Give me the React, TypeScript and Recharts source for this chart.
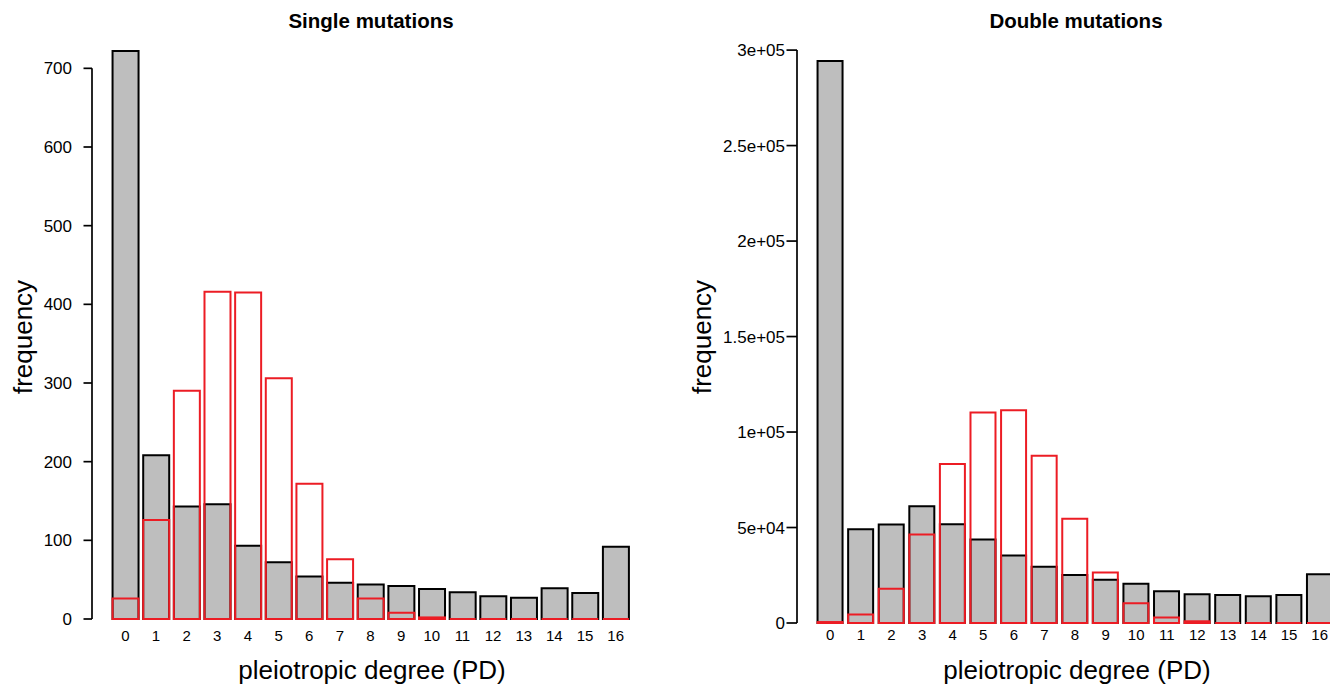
import { Bar, BarChart, XAxis, YAxis } from "recharts"

const degrees = ["0", "1", "2", "3", "4", "5", "6", "7", "8", "9", "10", "11", "12", "13", "14", "15", "16"]

// single mutations: grey = all, red = outline bars
const singleAll = [722, 208, 143, 146, 93, 72, 54, 46, 44, 42, 38, 34, 29, 27, 39, 33, 92]
const singleRed = [26, 126, 290, 416, 415, 306, 172, 76, 26, 8, 2, 0, 0, 0, 0, 0, 0]
const singleTicks = [0, 100, 200, 300, 400, 500, 600, 700]
const singleTickLabels = ["0", "100", "200", "300", "400", "500", "600", "700"]

// double mutations
const doubleAll = [294300, 49100, 51600, 61200, 51700, 43700, 35300, 29400, 25200, 22600, 20600, 16600, 15000, 14700, 14000, 14700, 25500]
const doubleRed = [500, 4400, 18000, 46300, 83200, 110200, 111400, 87600, 54600, 26500, 10300, 2900, 900, 0, 0, 0, 0]
const doubleTicks = [0, 50000, 100000, 150000, 200000, 250000, 300000]
const doubleTickLabels = ["0", "5e+04", "1e+05", "1.5e+05", "2e+05", "2.5e+05", "3e+05"]

const FONT = '"Liberation Sans", Arial, Helvetica, sans-serif'
const GREY = "#bebebe"
const RED = "#ec1c24"
const H = 687

// outline bar that still draws its bottom edge when the value is 0
function OutlineBar(props: any) {
  const { x, y, width } = props
  const h = props.height || 0
  return (
    <path
      d={`M${x},${y + h}L${x},${y}L${x + width},${y}L${x + width},${y + h}Z`}
      fill="none"
      stroke={RED}
      strokeWidth={2}
    />
  )
}

type PanelProps = {
  all: number[]
  red: number[]
  ticks: number[]
  tickLabels: string[]
  yMax: number
  width: number
  yAxisWidth: number
  top: number
  right: number
  xAxisHeight: number
  tickLen: number
  labelGap: number
  xTickMargin: number
}

function Panel(p: PanelProps) {
  const data = degrees.map((d, i) => ({ pd: d, all: p.all[i], red: p.red[i] }))
  const zeroY = H - p.xAxisHeight
  const topTick = p.ticks[p.ticks.length - 1]

  const renderYTick = (props: any) => {
    const { x, y, payload } = props
    const i = p.ticks.indexOf(payload.value)
    return (
      <g>
        <line x1={x - p.tickLen} x2={x} y1={y} y2={y} stroke="#000" strokeWidth={1.7} />
        {payload.value === topTick && (
          <line x1={x} x2={x} y1={y} y2={zeroY} stroke="#000" strokeWidth={1.7} />
        )}
        <text
          x={x - p.tickLen - p.labelGap}
          y={y}
          dy="0.36em"
          textAnchor="end"
          fontSize={17}
          fontFamily={FONT}
          fill="#000"
        >
          {p.tickLabels[i]}
        </text>
      </g>
    )
  }

  return (
    <BarChart
      width={p.width}
      height={H}
      data={data}
      margin={{ top: p.top, right: p.right, bottom: 0, left: 0 }}
      barCategoryGap="8.333%"
    >
      <XAxis
        xAxisId="all"
        dataKey="pd"
        height={p.xAxisHeight}
        padding={{ left: 18, right: 18 }}
        axisLine={false}
        tickLine={false}
        tickSize={0}
        tickMargin={p.xTickMargin}
        interval={0}
        tick={{ fontSize: 15, fill: "#000", fontFamily: FONT }}
      />
      <XAxis xAxisId="red" dataKey="pd" hide padding={{ left: 18, right: 18 }} />
      <YAxis
        width={p.yAxisWidth}
        domain={[0, p.yMax]}
        ticks={p.ticks}
        interval={0}
        axisLine={false}
        tickLine={false}
        tickSize={0}
        tickMargin={0}
        tick={renderYTick}
      />
      <Bar
        xAxisId="all"
        dataKey="all"
        fill={GREY}
        stroke="#000"
        strokeWidth={2}
        isAnimationActive={false}
      />
      <Bar
        xAxisId="red"
        dataKey="red"
        fill="none"
        shape={OutlineBar}
        isAnimationActive={false}
      />
    </BarChart>
  )
}

export default function App() {
  return (
    <div
      style={{
        position: "absolute",
        left: 0,
        top: 0,
        width: 1330,
        height: H,
        overflow: "hidden",
        background: "#fff",
      }}
    >
      <div style={{ position: "absolute", left: 0, top: 0 }}>
        <Panel
          all={singleAll}
          red={singleRed}
          ticks={singleTicks}
          tickLabels={singleTickLabels}
          yMax={750}
          width={665}
          yAxisWidth={92}
          top={29}
          right={16}
          xAxisHeight={68}
          tickLen={8.5}
          labelGap={11.5}
          xTickMargin={11}
        />
      </div>
      <div style={{ position: "absolute", left: 665, top: 0 }}>
        <Panel
          all={doubleAll}
          red={doubleRed}
          ticks={doubleTicks}
          tickLabels={doubleTickLabels}
          yMax={310000}
          width={700}
          yAxisWidth={132}
          top={31}
          right={12}
          xAxisHeight={64}
          tickLen={10.5}
          labelGap={1.5}
          xTickMargin={6}
        />
      </div>
      <svg
        width={1330}
        height={H}
        style={{ position: "absolute", left: 0, top: 0, pointerEvents: "none" }}
        fontFamily={FONT}
      >
        <text x={371} y={27.5} textAnchor="middle" fontSize={20.5} fontWeight="bold">
          Single mutations
        </text>
        <text x={1076} y={27.5} textAnchor="middle" fontSize={20.5} fontWeight="bold">
          Double mutations
        </text>
        <text x={372} y={679} textAnchor="middle" fontSize={26}>
          pleiotropic degree (PD)
        </text>
        <text x={1077} y={679} textAnchor="middle" fontSize={26}>
          pleiotropic degree (PD)
        </text>
        <text x={32} y={337} textAnchor="middle" fontSize={26} transform="rotate(-90 32 337)">
          frequency
        </text>
        <text x={711} y={337} textAnchor="middle" fontSize={26} transform="rotate(-90 711 337)">
          frequency
        </text>
      </svg>
    </div>
  )
}
